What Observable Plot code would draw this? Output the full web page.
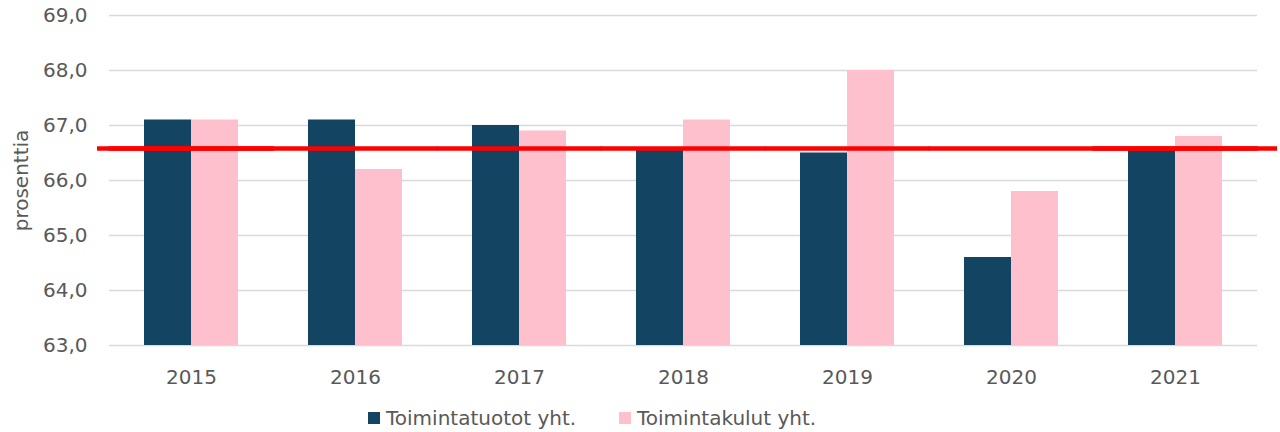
<!DOCTYPE html>
<html><head><meta charset="utf-8">
<script src="https://cdn.jsdelivr.net/npm/d3@7"></script>
<script src="https://cdn.jsdelivr.net/npm/@observablehq/plot@0.6"></script>
<style>
body{margin:0;background:#fff;font-family:"DejaVu Sans",Verdana,sans-serif;}
#legend{position:relative;height:32px;font-size:20px;color:#595959;}
.item{position:absolute;top:6px;display:flex;align-items:center;white-space:nowrap;}
.sw{width:12px;height:12px;margin-right:6px;display:inline-block;}
</style></head><body><div id="chart"></div><div id="legend"></div>
<script>
const years = ["2015","2016","2017","2018","2019","2020","2021"];
const series = ["Toimintatuotot yht.","Toimintakulut yht."];
const tuotot = [67.1,67.1,67.0,66.6,66.5,64.6,66.6];
const kulut = [67.1,66.2,66.9,67.1,68.0,65.8,66.8];
const referenceValue = 66.58;
const yTicks = [63,64,65,66,67,68,69];
const yTitle = "prosenttia";
const colors = ["#134462","#ffc0cd"];

const data = [];
years.forEach((y,i)=>{
  data.push({year:y, series:series[0], value:tuotot[i]});
  data.push({year:y, series:series[1], value:kulut[i]});
});
const yMin = yTicks[0], yMax = yTicks[yTicks.length-1];
const firstYear = [{year:years[0], value:referenceValue, label:yTitle}];
const lastYear = [{year:years[years.length-1], value:referenceValue}];

const chart = Plot.plot({
  width:1280, height:400,
  marginLeft:108, marginRight:23, marginTop:15, marginBottom:55,
  style:{fontFamily:"DejaVu Sans, Verdana, sans-serif", fontSize:"20px", color:"#595959", background:"#fff", overflow:"visible"},
  fx:{domain:years, padding:0, label:null, axis:"bottom", tickSize:0, tickPadding:24},
  x:{domain:series, paddingInner:0, paddingOuter:0.73, axis:null},
  y:{domain:[yMin,yMax], ticks:yTicks, tickFormat:d=>d.toFixed(1).replace(".",","), tickSize:0, tickPadding:22, label:null},
  color:{domain:series, range:colors},
  marks:[
    Plot.ruleY(yTicks,{stroke:"#d9d9d9", strokeWidth:1.5}),
    Plot.barY(data,{fx:"year", x:"series", y1:yMin, y2:"value", fill:"series"}),
    Plot.ruleY([referenceValue],{stroke:"#ff0000", strokeWidth:4.5, insetLeft:-0.5, insetRight:-0.5}),
    Plot.ruleY(firstYear,{fx:"year", y:"value", stroke:"#ff0000", strokeWidth:4.5, insetLeft:-12}),
    Plot.ruleY(lastYear,{fx:"year", y:"value", stroke:"#ff0000", strokeWidth:4.5, insetRight:-20}),
    Plot.text(firstYear,{fx:"year", text:"label", frameAnchor:"left", textAnchor:"middle", dx:-88, rotate:-90, fontSize:20, fill:"#595959"})
  ]
});
document.getElementById("chart").appendChild(chart);

const legend = document.getElementById("legend");
const lefts = [368, 619];
series.forEach((s,i)=>{
  const it = document.createElement("div");
  it.className = "item";
  it.style.left = lefts[i]+"px";
  it.innerHTML = `<span class="sw" style="background:${colors[i]}"></span><span>${s}</span>`;
  legend.appendChild(it);
});
</script></body></html>
